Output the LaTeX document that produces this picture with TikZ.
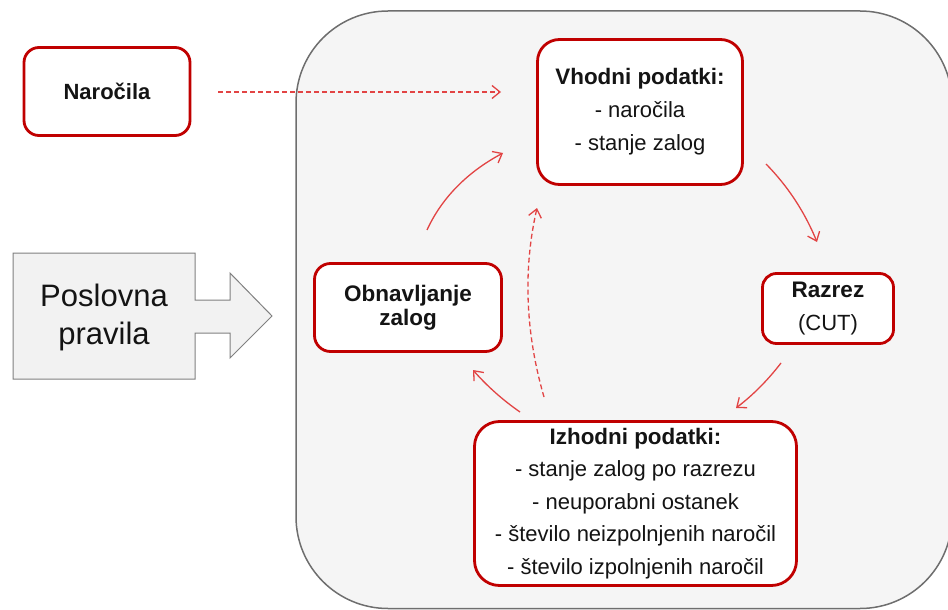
\documentclass[tikz,border=0pt]{standalone}
\usepackage{fontspec}
\setmainfont{Liberation Sans}
\usetikzlibrary{arrows.meta}
\definecolor{boxred}{RGB}{192,0,0}
\definecolor{flowred}{RGB}{226,68,68}
\definecolor{panelfill}{RGB}{245,245,245}
\definecolor{panelline}{RGB}{110,110,110}
\definecolor{rulefill}{RGB}{242,242,242}
\definecolor{ruleline}{RGB}{128,128,128}
\definecolor{ink}{RGB}{20,20,20}
\begin{document}
\begin{tikzpicture}[x=1pt,y=-1pt,
  redbox/.style={draw=boxred, line width=2.8pt, fill=white, rounded corners=#1,
    align=center, inner sep=0pt, text=ink},
  redbox/.default=16pt,
  flow/.style={draw=flowred, line width=1.3pt, -{Straight Barb[length=8pt,width=13pt]}},
  flowdash/.style={flow, dash pattern=on 5pt off 3pt}]
\useasboundingbox (0,0) rectangle (948,610);

% grey process panel (its right side runs past the page edge)
\draw[fill=panelfill, draw=panelline, line width=1.5pt, rounded corners=92pt]
  (296,11) rectangle (952,608.5);

% business rules: box with a block arrow pointing into the panel
\draw[fill=rulefill, draw=ruleline, line width=1pt]
  (13,253) -- (195,253) -- (195,300) -- (230,300) -- (230,273) -- (272,316)
  -- (230,358) -- (230,333) -- (195,333) -- (195,379) -- (13,379) -- cycle;
\node[font=\fontsize{31}{38}\selectfont, align=center, text=ink] (rules) at (104,317)
  {Poslovna\\pravila};

% process steps
\node[redbox=15pt, minimum width=166pt, minimum height=88pt,
  font=\fontsize{22}{26}\selectfont\bfseries] (nar) at (107,91.5) {Naročila};

\node[redbox=22pt, minimum width=205pt, minimum height=145pt,
  font=\fontsize{22}{33}\selectfont] (vh) at (640,112)
  {{\fontsize{22.4}{33}\selectfont\bfseries Vhodni podatki:}\\- naročila\\- stanje zalog};

\node[redbox=14pt, minimum width=131pt, minimum height=70pt,
  font=\fontsize{22}{33}\selectfont] (raz) at (828,308.5)
  {{\fontsize{22.5}{33}\selectfont\bfseries Razrez}\\(CUT)};

\node[redbox=16pt, minimum width=187pt, minimum height=88pt,
  font=\fontsize{22.5}{23.5}\selectfont\bfseries] (obn) at (408,307.5)
  {Obnavljanje\\zalog};

\node[redbox=25pt, minimum width=322pt, minimum height=164pt,
  font=\fontsize{22}{32.5}\selectfont] (izh) at (635.5,503.5)
  {{\fontsize{22.4}{32.5}\selectfont\bfseries Izhodni podatki:}\\
   - stanje zalog po razrezu\\- neuporabni ostanek\\
   - število neizpolnjenih naročil\\- število izpolnjenih naročil};

% connector end points
\coordinate (narOut) at (218,92);
\coordinate (vhIn)   at (501,92);
\coordinate (vhOut)  at (766,164);
\coordinate (razIn)  at (817,242);
\coordinate (razOut) at (781,363);
\coordinate (izhIn)  at (736,408);
\coordinate (izhOut) at (520,412);
\coordinate (obnIn)  at (473,370);
\coordinate (obnOut) at (427,230);
\coordinate (vhIn2)  at (503,153);
\coordinate (izhUp)  at (544,397);
\coordinate (vhIn3)  at (537,208);

% flows
\draw[flowdash] (narOut) -- (vhIn);
\draw[flow] (vhOut) .. controls (787.7,186) and (804.7,212) .. (razIn);
\draw[flow] (razOut) .. controls (767.7,380.3) and (752.7,395.3) .. (izhIn);
\draw[flow] (izhOut) .. controls (502.7,400) and (487,386) .. (obnIn);
\draw[flow] (obnOut) .. controls (441.7,198) and (467,172.3) .. (vhIn2);
\draw[flowdash] (izhUp) .. controls (525.3,332.3) and (523,269.3) .. (vhIn3);
\end{tikzpicture}
\end{document}
